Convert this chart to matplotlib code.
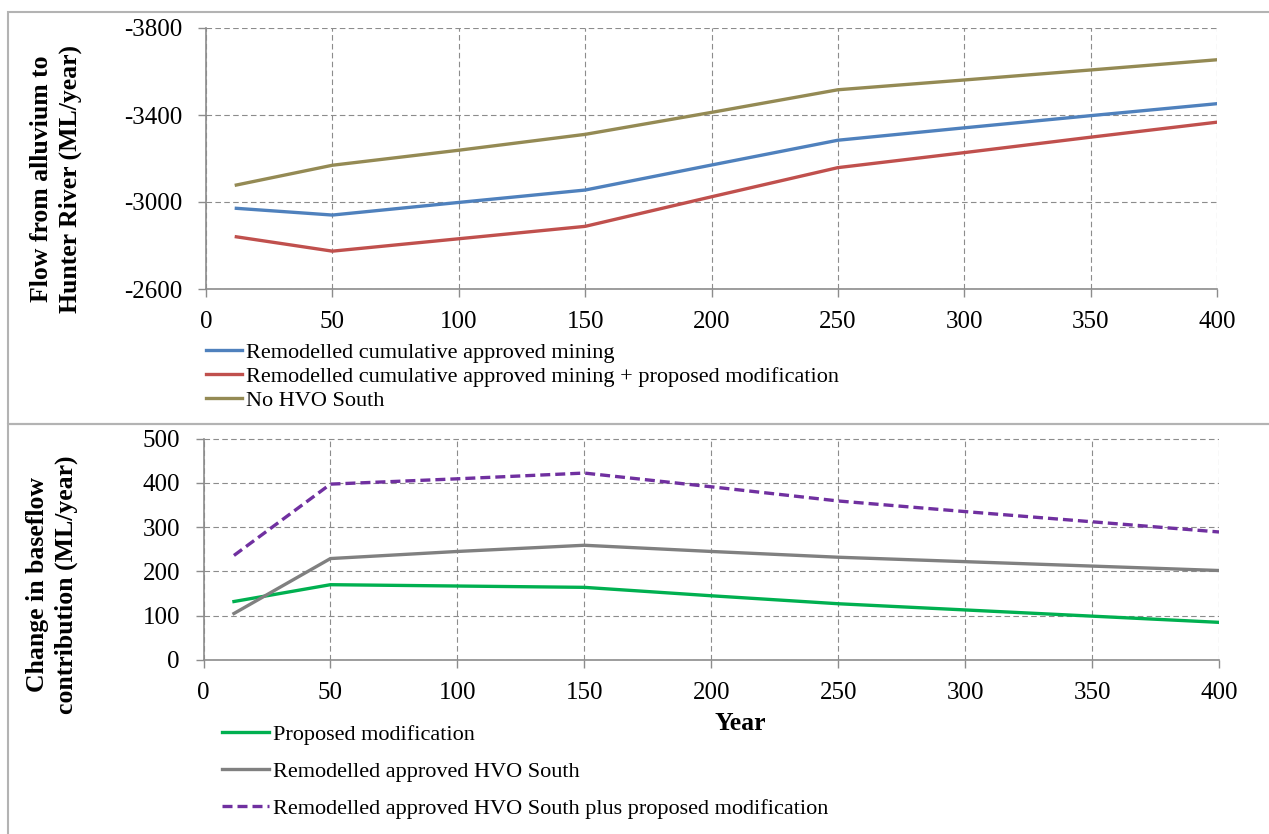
import numpy as np
import matplotlib
matplotlib.use("Agg")
import matplotlib.pyplot as plt
from matplotlib.patches import Rectangle

plt.rcParams['font.family'] = ['Liberation Serif', 'DejaVu Serif']
plt.rcParams['axes.unicode_minus'] = False

# years (x values)
years = [12, 50, 100, 150, 200, 250, 300, 350, 400]

# top panel: flow from alluvium to Hunter River (ML/year)
flow_approved = [-2971, -2940, -2998, -3055, -3170, -3284, -3341, -3397, -3452]
flow_approved_mod = [-2840, -2774, -2831, -2888, -3024, -3158, -3227, -3298, -3367]
flow_no_hvo = [-3078, -3169, -3238, -3311, -3412, -3516, -3561, -3607, -3654]
top_labels = ["Remodelled cumulative approved mining",
              "Remodelled cumulative approved mining + proposed modification",
              "No HVO South"]

# bottom panel: change in baseflow contribution (ML/year)
chg_proposed = [132, 170, 167, 164, 145, 127, 113, 99, 85]
chg_hvo_south = [105, 229, 245, 259, 245, 232, 222, 212, 202]
chg_hvo_plus = [236, 397, 409, 422, 391, 359, 335, 312, 289]
bottom_labels = ["Proposed modification",
                 "Remodelled approved HVO South",
                 "Remodelled approved HVO South plus proposed modification"]

W, H = 1269, 834
fig = plt.figure(figsize=(W / 100, H / 100), dpi=100)

grid_col = '#8c8c8c'
fs = 16      # legend text
tfs = 18     # tick labels
lfs = 18.5   # axis titles


def px_rect(l, t, r, b):
    return [l / W, 1 - b / H, (r - l) / W, (b - t) / H]


def style_axes(ax):
    for s in ['top', 'right']:
        ax.spines[s].set_visible(False)
    for s in ['left', 'bottom']:
        ax.spines[s].set_color(grid_col)
        ax.spines[s].set_linewidth(1.2)
    ax.grid(True, color=grid_col, linestyle=(0, (5, 3)), linewidth=0.8)
    ax.tick_params(axis='both', colors=grid_col, labelcolor='black',
                   labelsize=tfs, length=6, width=1)
    ax.tick_params(axis='x', pad=10)
    ax.tick_params(axis='y', pad=11)
    ax.set_xlim(0, 400)
    ax.set_xticks(np.arange(0, 401, 50))
    ax.set_axisbelow(True)


# frames around each panel
fig.patches.append(Rectangle((8 / W, 1 - 424 / H), 1.2, (424 - 12) / H,
                             transform=fig.transFigure, fill=False,
                             edgecolor='#b3b3b3', linewidth=1.5))
fig.patches.append(Rectangle((8 / W, -0.2), 1.2, 0.2 + 1 - 424 / H,
                             transform=fig.transFigure, fill=False,
                             edgecolor='#b3b3b3', linewidth=1.5))

# top panel
ax1 = fig.add_axes(px_rect(206, 28, 1217, 289))
style_axes(ax1)
ax1.plot(years, flow_approved, color='#4F81BD', lw=2.4, label=top_labels[0])
ax1.plot(years, flow_approved_mod, color='#C0504D', lw=2.4, label=top_labels[1])
ax1.plot(years, flow_no_hvo, color='#948A54', lw=2.4, label=top_labels[2])
ax1.set_ylim(-2600, -3800)
ax1.set_yticks([-3800, -3400, -3000, -2600])
ax1.legend(loc='upper left', bbox_to_anchor=(206 / W, 1 - 342 / H),
           bbox_transform=fig.transFigure, frameon=False, fontsize=fs,
           borderpad=0, borderaxespad=0, handlelength=1.6,
           handletextpad=0.2, labelspacing=0.17)
fig.text(56 / W, 1 - 179 / H, "Flow from alluvium to\nHunter River (ML/year)",
         rotation=90, ha='center', va='center', fontsize=lfs,
         fontweight='bold', linespacing=1.3)

# bottom panel
ax2 = fig.add_axes(px_rect(203.5, 438.5, 1219, 660))
style_axes(ax2)
ax2.plot(years, chg_proposed, color='#00B050', lw=2.4, label=bottom_labels[0])
ax2.plot(years, chg_hvo_south, color='#808080', lw=2.4, label=bottom_labels[1])
ax2.plot(years, chg_hvo_plus, color='#7030A0', lw=2.4,
         linestyle=(0, (3, 1.5)), label=bottom_labels[2])
ax2.set_ylim(0, 500)
ax2.set_yticks(np.arange(0, 501, 100))
ax2.legend(loc='upper left', bbox_to_anchor=(222 / W, 1 - 724 / H),
           bbox_transform=fig.transFigure, frameon=False, fontsize=fs,
           borderpad=0, borderaxespad=0, handlelength=2.1,
           handletextpad=0.2, labelspacing=0.75)
fig.text(740 / W, 1 - 724 / H, "Year", ha='center', va='center',
         fontsize=lfs, fontweight='bold')
fig.text(52 / W, 1 - 585 / H, "Change in baseflow\ncontribution (ML/year)",
         rotation=90, ha='center', va='center', fontsize=lfs,
         fontweight='bold', linespacing=1.3)

fig.savefig("out.png", dpi=100)
